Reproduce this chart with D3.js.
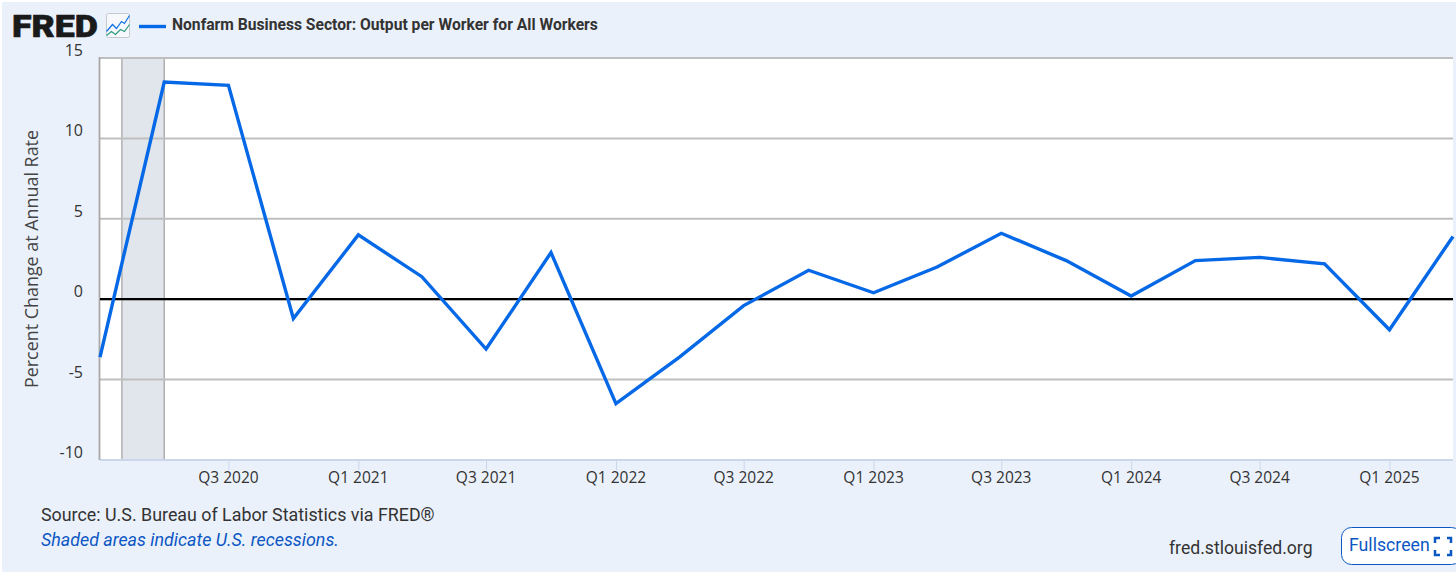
<!DOCTYPE html>
<html><head><meta charset="utf-8">
<script src="https://cdnjs.cloudflare.com/ajax/libs/d3/7.8.5/d3.min.js"></script>
<style>html,body{margin:0;padding:0;background:#fff;overflow:hidden}svg{display:block}text{font-family:Roboto,sans-serif}</style>
</head><body><svg id="c" width="1456" height="572"></svg>
<script>
const quarters=["2020-01-01","2020-04-01","2020-07-01","2020-10-01","2021-01-01","2021-04-01","2021-07-01","2021-10-01","2022-01-01","2022-04-01","2022-07-01","2022-10-01","2023-01-01","2023-04-01","2023-07-01","2023-10-01","2024-01-01","2024-04-01","2024-07-01","2024-10-01","2025-01-01","2025-04-01"];
const values=[-3.6,13.5,13.3,-1.2,4.0,1.4,-3.1,2.9,-6.5,-3.6,-0.4,1.8,0.4,2.0,4.1,2.4,0.2,2.4,2.6,2.2,-1.9,3.9];
const yTicks=[-10,-5,0,5,10,15];
const xTickDates=["2020-07-01","2021-01-01","2021-07-01","2022-01-01","2022-07-01","2023-01-01","2023-07-01","2024-01-01","2024-07-01","2025-01-01"];
const recession=["2020-02-01","2020-04-01"];
const seriesName="Nonfarm Business Sector: Output per Worker for All Workers";
const yTitle="Percent Change at Annual Rate";
const parse=d3.utcParse("%Y-%m-%d");
const qFmt=d=>"Q"+(Math.floor(d.getUTCMonth()/3)+1)+" "+d.getUTCFullYear();

const L=100,R=1453,T=58,B=460;
const x=d3.scaleUtc().domain([parse(quarters[0]),parse(quarters[quarters.length-1])]).range([L,R]);
const y=d3.scaleLinear().domain([-10,15]).range([B,T]);
const svg=d3.select("#c");
svg.append("rect").attr("x",2).attr("y",2).attr("width",1454).attr("height",570).attr("fill","#ebf1fa");
svg.append("rect").attr("x",L).attr("y",T).attr("width",R-L).attr("height",B-T).attr("fill","#fff");
// recession
svg.append("rect").attr("x",x(parse(recession[0]))).attr("y",T).attr("width",x(parse(recession[1]))-x(parse(recession[0]))).attr("height",B-T).attr("fill","#e1e5ec").attr("stroke","#a6a6a6").attr("stroke-width",1.3);
// grid
svg.append("g").selectAll("line").data(yTicks).join("line")
 .attr("x1",L).attr("x2",R).attr("y1",d=>y(d)).attr("y2",d=>y(d))
 .attr("stroke",d=>d===-10?"#ccd6eb":"#bfbfbf").attr("stroke-width",2);
svg.append("line").attr("x1",L-0.5).attr("x2",L-0.5).attr("y1",T-1).attr("y2",B).attr("stroke","#a9a9a9").attr("stroke-width",1.8);
// axes
const xAxis=d3.axisBottom(x).tickValues(xTickDates.map(parse)).tickFormat(qFmt).tickSize(10).tickPadding(2);
const gx=svg.append("g").attr("transform",`translate(-1,0) translate(1,${B})`).call(xAxis);
gx.select(".domain").remove();
gx.selectAll("line").attr("stroke","#ccd6eb");
gx.selectAll("text").attr("fill","#333").attr("dx",-0.5).style("font-size","15.5px").style("font-family","'Open Sans',sans-serif");
const yAxis=d3.axisLeft(y).tickValues(yTicks).tickSize(0).tickPadding(17).tickFormat(d=>String(d));
const gy=svg.append("g").attr("transform",`translate(${L},0)`).call(yAxis);
gy.select(".domain").remove();
gy.selectAll("text").attr("fill","#333").attr("dy","0").attr("y",-2.5).style("font-size","16px").style("font-family","'Open Sans',sans-serif");
// zero line
svg.append("line").attr("x1",L).attr("x2",R).attr("y1",y(0)).attr("y2",y(0)).attr("stroke","#000").attr("stroke-width",2.2);
// series
const line=d3.line().x((d,i)=>x(parse(quarters[i]))).y(d=>y(d));
svg.append("path").datum(values).attr("d",line).attr("fill","none").attr("stroke","#0568e6").attr("stroke-width",3.4).attr("stroke-linejoin","miter");
// y title
svg.append("text").attr("transform","translate(38,259) rotate(-90)").attr("text-anchor","middle").attr("fill","#444").style("font-size","17.9px").style("font-family","'Open Sans',sans-serif").text(yTitle);
// header
svg.append("text").attr("x",12).attr("y",37).attr("fill","#1a1a1a").attr("stroke","#1a1a1a").attr("stroke-width",0.6).style("font-size","32px").style("font-weight","900").style("font-family","Roboto,sans-serif").attr("textLength",86).attr("lengthAdjust","spacingAndGlyphs").text("FRED");
const ic=svg.append("g").attr("transform","translate(106.5,13.5)");
ic.append("rect").attr("x",0).attr("y",0).attr("width",23).attr("height",24).attr("rx",2).attr("fill","#f6f8fb").attr("stroke","#c4c9cf");
ic.append("path").attr("d","M0,18L6,11L10,15L15,8L18,10L23,2").attr("fill","none").attr("stroke","#0a6ee6").attr("stroke-width",1.2);
ic.append("path").attr("d","M0,22L5,18L9,21L14,16L18,18L23,11").attr("fill","none").attr("stroke","#2a9d7f").attr("stroke-width",1.2);
svg.append("line").attr("x1",139).attr("x2",166).attr("y1",26.5).attr("y2",26.5).attr("stroke","#0568e6").attr("stroke-width",3.4);
svg.append("text").attr("x",172).attr("y",30).attr("fill","#333").style("font-size","15.65px").style("font-weight","700").text(seriesName);
// footer
svg.append("text").attr("x",41).attr("y",521).attr("fill","#333").style("font-size","17.85px").text("Source: U.S. Bureau of Labor Statistics via FRED®");
svg.append("text").attr("x",41).attr("y",545.5).attr("fill","#0b57c4").style("font-size","17.85px").style("font-style","italic").text("Shaded areas indicate U.S. recessions.");
svg.append("text").attr("x",1169).attr("y",554).attr("fill","#333").style("font-size","17.6px").text("fred.stlouisfed.org");
svg.append("rect").attr("x",1341.5).attr("y",527.5).attr("width",120).attr("height",37).attr("rx",10).attr("fill","#fff").attr("stroke","#0b57c4");
svg.append("text").attr("x",1349).attr("y",551).attr("fill","#0b57c4").style("font-size","17.7px").text("Fullscreen");
svg.append("path").attr("d","M1435,543v-5h5M1447,538h4v5M1451,550v5h-4M1440,555h-5v-5").attr("fill","none").attr("stroke","#0b57c4").attr("stroke-width",2.5);
</script></body></html>
